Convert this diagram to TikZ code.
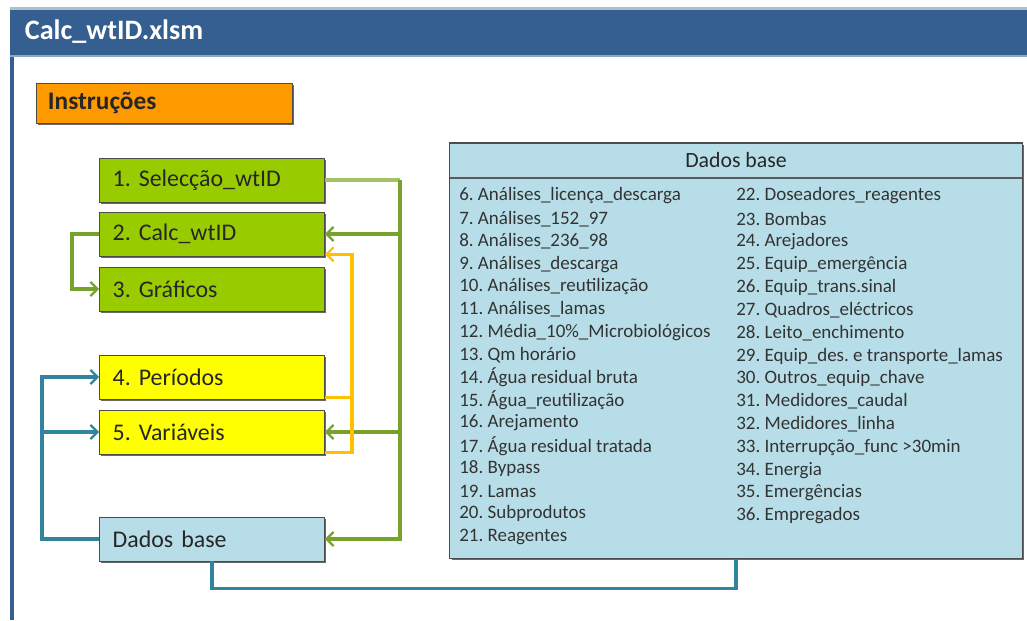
\documentclass[tikz,border=0pt]{standalone}
\usepackage{fontspec}
\setmainfont{Carlito}
\usetikzlibrary{arrows.meta,shadows}
\frenchspacing

\definecolor{titleblue}{HTML}{365F91}
\definecolor{instrorange}{HTML}{FF9900}
\definecolor{boxgreen}{HTML}{99CC00}
\definecolor{boxyellow}{HTML}{FFFF00}
\definecolor{boxblue}{HTML}{B7DEE8}
\definecolor{linegreen}{HTML}{77A22E}
\definecolor{linegreenlight}{HTML}{A3C465}
\definecolor{lineyellow}{HTML}{FFC000}
\definecolor{lineteal}{HTML}{31849B}

\begin{document}
\begin{tikzpicture}[x=0.025cm, y=-0.025cm,
	sheet/.style={draw=black!70, line width=0.6pt, text=black!85, inner xsep=0.33cm,
		minimum width=5.625cm, minimum height=1.1cm, text width=4.965cm, align=left,
		font=\fontsize{17}{19}\selectfont,
		drop shadow={shadow xshift=1.3pt, shadow yshift=-1.3pt, opacity=0.9, fill=black!65}},
	entry/.style={anchor=west, inner sep=0pt, text=black!80, font=\fontsize{13.5}{15}\selectfont},
	grnline/.style={draw=linegreen, line width=2.3pt},
	yelline/.style={draw=lineyellow, line width=2.3pt},
	tealline/.style={draw=lineteal, line width=2.3pt},
	tip/.style={-{Straight Barb[length=5pt,width=10pt,line width=1.6pt]}}]
	\useasboundingbox (0,0) rectangle (1027,620);
	
	%Fenster
	\fill[titleblue!40] (10,7) rectangle (1027,10);
	\fill[titleblue] (10,10) rectangle (1027,55);
	\fill[titleblue!55] (10,55) rectangle (1027,57);
	\draw[titleblue, line width=2.2pt] (12,57) -- (12,620);
	\node[anchor=west, text=white, font=\fontsize{20}{22}\selectfont\bfseries] (title) at (20,32) {Calc\_wtID.xlsm};
	
	\node[sheet, fill=instrorange, minimum width=6.3cm, text width=5.8cm, minimum height=1cm,
		font=\fontsize{18}{20}\selectfont\bfseries, inner xsep=0.3cm] (instr) at (164,103) {Instruções};
	
	%Blätter
	\node[sheet, fill=boxgreen] (s1) at (212,180) {1. Selecção\_wtID};
	\node[sheet, fill=boxgreen] (s2) at (212,234) {2. Calc\_wtID};
	\node[sheet, fill=boxgreen] (s3) at (212,289) {3. Gráficos};
	\node[sheet, fill=boxyellow] (s4) at (212,377) {4. Períodos};
	\node[sheet, fill=boxyellow] (s5) at (212,432) {5. Variáveis};
	\node[sheet, fill=boxblue] (dados) at (212,539) {Dados base};
	
	%Dados base Tabelle
	\node[draw=black!70, line width=0.8pt, fill=boxblue, minimum width=14.3cm, minimum height=10.375cm,
		drop shadow={shadow xshift=1.5pt, shadow yshift=-1.5pt, opacity=0.9, fill=black!65}] (panel) at (736,350.5) {};
	\draw[black!65, line width=0.8pt] (450,178) -- (1022,178);
	\node[font=\fontsize{15.5}{17}\selectfont, text=black!85] (head) at (736,160) {Dados base};
	
	\foreach \t [count=\i] in {6. Análises\_licença\_descarga, 7. Análises\_152\_97, 8. Análises\_236\_98,
		9. Análises\_descarga, 10. Análises\_reutilização, 11. Análises\_lamas,
		12. Média\_10\%\_Microbiológicos, 13. Qm horário, 14. Água residual bruta,
		15. Água\_reutilização, 16. Arejamento, 17. Água residual tratada, 18. Bypass,
		19. Lamas, 20. Subprodutos, 21. Reagentes} {
		\node[entry] (a\i) at (459,{173.3+22.7*\i}) {\t};
	}
	\foreach \t [count=\i] in {22. Doseadores\_reagentes, 23. Bombas, 24. Arejadores,
		25. Equip\_emergência, 26. Equip\_trans.sinal, 27. Quadros\_eléctricos,
		28. Leito\_enchimento, 29. Equip\_des. e transporte\_lamas, 30. Outros\_equip\_chave,
		31. Medidores\_caudal, 32. Medidores\_linha, 33. Interrupção\_func \textgreater30min,
		34. Energia, 35. Emergências, 36. Empregados} {
		\node[entry] (b\i) at (736,{173.15+22.85*\i}) {\t};
	}
	
	%Verbindungen
	\path (s1.east) ++(75,0) coordinate (gx);
	\draw[draw=linegreenlight, line width=2.3pt] (s1.east) -- (gx);
	\draw[grnline, tip] (gx) |- (dados.east);
	\draw[grnline, tip] (gx |- s2.east) -- (s2.east);
	\draw[grnline, tip] (gx |- s5.east) -- (s5.east);
	\draw[grnline, tip] (s2.west) -- ++(-27,0) |- (s3.west);
	
	\draw[yelline] ([yshift=1.5pt]s4.south east) -- ++(27,0);
	\draw[yelline, tip] ([yshift=1.5pt]s5.south east) -- ++(27,0) |- ([yshift=1.5pt]s2.south east);
	
	\draw[tealline, tip] (dados.west) -- ++(-57,0) coordinate (tx) |- (s4.west);
	\draw[tealline, tip] (tx |- s5.west) -- (s5.west);
	\draw[tealline] (dados.south) -- ++(0,27) -| (panel.south);
\end{tikzpicture}
\end{document}
